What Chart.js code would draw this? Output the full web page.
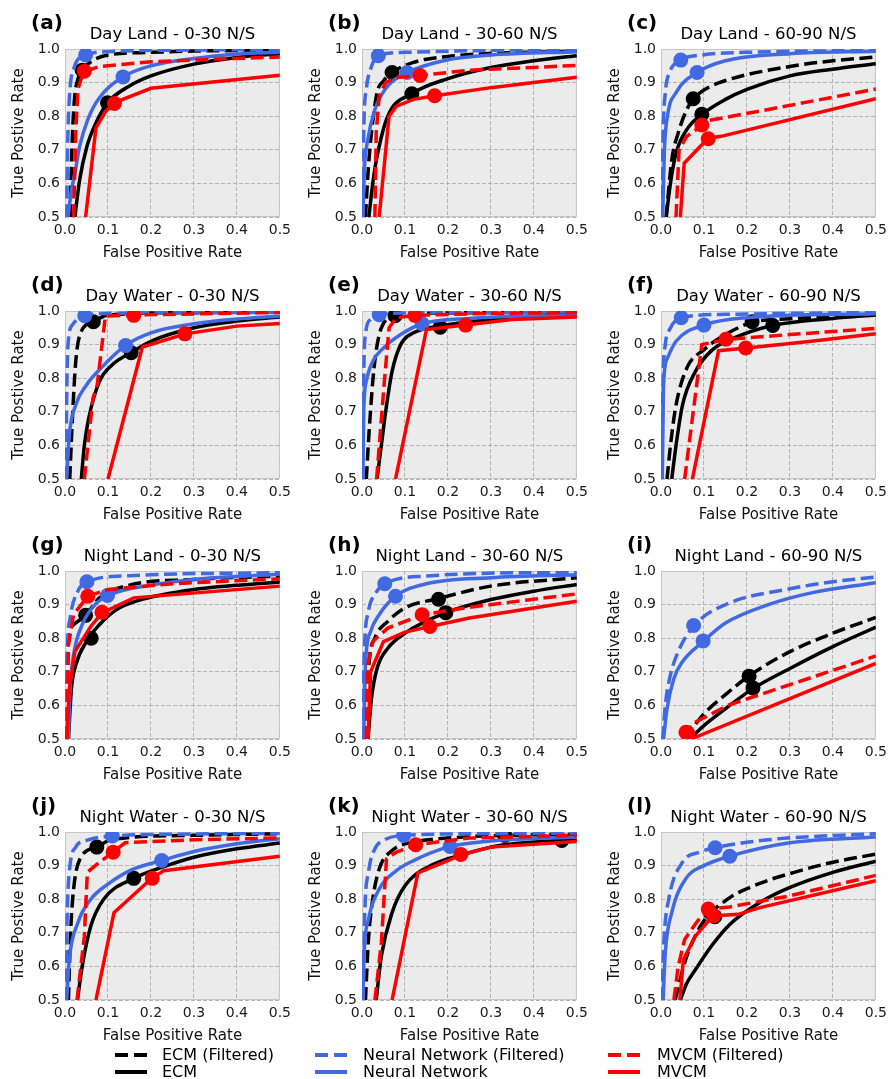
<!DOCTYPE html>
<html>
<head>
<meta charset="utf-8">
<script src="https://cdn.jsdelivr.net/npm/chart.js@4"></script>
<style>
  body { margin: 0; background: #fff; width: 893px; height: 1079px; position: relative; overflow: hidden; font-family: "DejaVu Sans", sans-serif; }
  canvas.panel { position: absolute; }
  .leg { position: absolute; font-size: 16px; line-height: 17px; color: #000; white-space: nowrap; }
  .swatch { position: absolute; width: 32px; height: 4px; }
</style>
</head>
<body>
<script>
// ---- data ----
const panelLetters = ['(a)', '(b)', '(c)', '(d)', '(e)', '(f)', '(g)', '(h)', '(i)', '(j)', '(k)', '(l)']
const panelTitles = [
  'Day Land - 0-30 N/S', 'Day Land - 30-60 N/S', 'Day Land - 60-90 N/S',
  'Day Water - 0-30 N/S', 'Day Water - 30-60 N/S', 'Day Water - 60-90 N/S',
  'Night Land - 0-30 N/S', 'Night Land - 30-60 N/S', 'Night Land - 60-90 N/S',
  'Night Water - 0-30 N/S', 'Night Water - 30-60 N/S', 'Night Water - 60-90 N/S'
]
const xTicks = [0.0, 0.1, 0.2, 0.3, 0.4, 0.5]
const yTicks = [0.5, 0.6, 0.7, 0.8, 0.9, 1.0]

// ROC curves, one [fpr, tpr] list per panel (a..l)
const ecmFiltered = [
  [[0.012,0.5],[0.016,0.7],[0.022,0.85],[0.03,0.91],[0.04,0.937],[0.06,0.962],[0.1,0.982],[0.2,0.99],[0.3,0.994],[0.5,0.996]],
  [[0.008,0.5],[0.015,0.65],[0.022,0.75],[0.035,0.87],[0.05,0.905],[0.07,0.93],[0.12,0.96],[0.2,0.978],[0.3,0.987],[0.5,0.993]],
  [[0.012,0.5],[0.025,0.67],[0.04,0.75],[0.06,0.82],[0.075,0.85],[0.1,0.878],[0.155,0.908],[0.3,0.948],[0.4,0.965],[0.5,0.976]],
  [[0.011,0.5],[0.018,0.7],[0.025,0.85],[0.035,0.93],[0.066,0.968],[0.1,0.988],[0.3,0.995],[0.5,0.997]],
  [[0.01,0.5],[0.017,0.65],[0.028,0.83],[0.045,0.95],[0.077,0.985],[0.15,0.993],[0.5,0.996]],
  [[0.014,0.5],[0.022,0.6],[0.035,0.72],[0.06,0.83],[0.1,0.885],[0.15,0.93],[0.212,0.966],[0.3,0.977],[0.5,0.99]],
  [[0.003,0.5],[0.006,0.76],[0.02,0.84],[0.048,0.868],[0.08,0.92],[0.15,0.958],[0.3,0.975],[0.5,0.985]],
  [[0.01,0.5],[0.015,0.7],[0.03,0.8],[0.06,0.85],[0.1,0.89],[0.178,0.918],[0.3,0.955],[0.5,0.98]],
  [[0.055,0.5],[0.1,0.575],[0.15,0.632],[0.205,0.688],[0.3,0.76],[0.4,0.815],[0.5,0.862]],
  [[0.008,0.5],[0.013,0.7],[0.02,0.83],[0.035,0.92],[0.074,0.955],[0.11,0.978],[0.3,0.99],[0.5,0.995]],
  [[0.008,0.5],[0.015,0.68],[0.025,0.8],[0.04,0.89],[0.07,0.945],[0.12,0.97],[0.2,0.982],[0.33,0.99],[0.5,0.993]],
  [[0.033,0.5],[0.056,0.615],[0.094,0.724],[0.155,0.8],[0.23,0.847],[0.31,0.88],[0.4,0.91],[0.5,0.934]]
]
const ecm = [
  [[0.023,0.5],[0.034,0.61],[0.051,0.71],[0.072,0.78],[0.099,0.84],[0.15,0.89],[0.2,0.92],[0.3,0.955],[0.4,0.975],[0.5,0.986]],
  [[0.016,0.5],[0.025,0.6],[0.035,0.68],[0.06,0.8],[0.116,0.867],[0.2,0.912],[0.3,0.945],[0.4,0.965],[0.5,0.98]],
  [[0.012,0.5],[0.022,0.6],[0.035,0.69],[0.06,0.76],[0.095,0.805],[0.15,0.85],[0.2,0.88],[0.3,0.92],[0.4,0.94],[0.5,0.956]],
  [[0.038,0.5],[0.045,0.6],[0.055,0.68],[0.08,0.79],[0.11,0.84],[0.155,0.877],[0.2,0.91],[0.3,0.95],[0.4,0.97],[0.5,0.982]],
  [[0.035,0.5],[0.045,0.6],[0.055,0.7],[0.07,0.82],[0.09,0.9],[0.12,0.935],[0.18,0.955],[0.3,0.975],[0.5,0.985]],
  [[0.025,0.5],[0.035,0.6],[0.05,0.72],[0.08,0.82],[0.12,0.885],[0.17,0.92],[0.26,0.957],[0.4,0.978],[0.5,0.988]],
  [[0.008,0.5],[0.015,0.65],[0.025,0.72],[0.05,0.79],[0.08,0.84],[0.12,0.885],[0.17,0.912],[0.3,0.945],[0.5,0.967]],
  [[0.014,0.5],[0.022,0.62],[0.035,0.71],[0.06,0.77],[0.1,0.815],[0.195,0.876],[0.3,0.915],[0.4,0.94],[0.5,0.96]],
  [[0.067,0.5],[0.1,0.54],[0.15,0.59],[0.214,0.65],[0.3,0.71],[0.4,0.775],[0.5,0.833]],
  [[0.029,0.5],[0.04,0.6],[0.06,0.72],[0.09,0.8],[0.16,0.862],[0.23,0.897],[0.3,0.925],[0.4,0.95],[0.5,0.967]],
  [[0.033,0.5],[0.045,0.63],[0.07,0.76],[0.1,0.84],[0.16,0.9],[0.24,0.935],[0.32,0.96],[0.5,0.978]],
  [[0.045,0.5],[0.06,0.55],[0.08,0.59],[0.12,0.665],[0.16,0.725],[0.23,0.79],[0.3,0.835],[0.4,0.88],[0.5,0.913]]
]
const nnFiltered = [
  [[0.004,0.5],[0.006,0.7],[0.01,0.85],[0.02,0.94],[0.048,0.982],[0.1,0.992],[0.3,0.997],[0.5,0.998]],
  [[0.002,0.5],[0.004,0.75],[0.01,0.88],[0.02,0.94],[0.038,0.98],[0.1,0.99],[0.3,0.996],[0.5,0.998]],
  [[0.002,0.5],[0.005,0.75],[0.01,0.87],[0.02,0.93],[0.046,0.967],[0.1,0.983],[0.2,0.99],[0.5,0.996]],
  [[0.002,0.5],[0.004,0.75],[0.007,0.9],[0.018,0.96],[0.046,0.987],[0.1,0.993],[0.5,0.996]],
  [[0.002,0.5],[0.004,0.8],[0.008,0.93],[0.02,0.975],[0.04,0.989],[0.1,0.994],[0.5,0.997]],
  [[0.002,0.5],[0.005,0.8],[0.01,0.9],[0.02,0.945],[0.047,0.98],[0.15,0.99],[0.5,0.996]],
  [[0.002,0.5],[0.005,0.75],[0.012,0.86],[0.03,0.94],[0.051,0.968],[0.15,0.986],[0.5,0.995]],
  [[0.002,0.5],[0.005,0.74],[0.015,0.88],[0.03,0.93],[0.053,0.962],[0.15,0.985],[0.5,0.997]],
  [[0.004,0.5],[0.01,0.6],[0.02,0.68],[0.04,0.76],[0.076,0.836],[0.15,0.9],[0.3,0.947],[0.4,0.968],[0.5,0.982]],
  [[0.002,0.5],[0.005,0.75],[0.01,0.88],[0.025,0.955],[0.05,0.975],[0.11,0.988],[0.3,0.994],[0.5,0.996]],
  [[0.003,0.5],[0.006,0.74],[0.015,0.88],[0.03,0.95],[0.05,0.975],[0.097,0.99],[0.3,0.995],[0.5,0.997]],
  [[0.002,0.5],[0.007,0.68],[0.018,0.8],[0.05,0.91],[0.09,0.94],[0.126,0.953],[0.25,0.977],[0.5,0.995]]
]
const nn = [
  [[0.007,0.5],[0.015,0.58],[0.023,0.63],[0.034,0.71],[0.053,0.79],[0.08,0.855],[0.135,0.917],[0.2,0.95],[0.3,0.972],[0.4,0.985],[0.5,0.99]],
  [[0.002,0.5],[0.006,0.65],[0.012,0.72],[0.03,0.82],[0.06,0.89],[0.105,0.93],[0.2,0.968],[0.3,0.982],[0.5,0.992]],
  [[0.004,0.5],[0.008,0.7],[0.015,0.8],[0.035,0.87],[0.084,0.93],[0.15,0.965],[0.3,0.986],[0.5,0.993]],
  [[0.004,0.5],[0.01,0.63],[0.025,0.72],[0.05,0.78],[0.08,0.825],[0.14,0.897],[0.2,0.935],[0.3,0.962],[0.4,0.976],[0.5,0.985]],
  [[0.002,0.5],[0.004,0.7],[0.01,0.79],[0.025,0.85],[0.05,0.89],[0.09,0.93],[0.14,0.962],[0.25,0.978],[0.5,0.988]],
  [[0.003,0.5],[0.006,0.78],[0.015,0.86],[0.035,0.91],[0.1,0.958],[0.2,0.98],[0.5,0.992]],
  [[0.008,0.5],[0.012,0.65],[0.02,0.75],[0.04,0.84],[0.07,0.9],[0.1,0.927],[0.2,0.958],[0.3,0.975],[0.5,0.99]],
  [[0.004,0.5],[0.008,0.72],[0.02,0.82],[0.04,0.87],[0.078,0.925],[0.15,0.962],[0.3,0.98],[0.5,0.989]],
  [[0.006,0.5],[0.014,0.59],[0.03,0.68],[0.05,0.73],[0.098,0.79],[0.15,0.845],[0.25,0.9],[0.35,0.935],[0.5,0.965]],
  [[0.004,0.5],[0.01,0.62],[0.03,0.73],[0.06,0.8],[0.1,0.845],[0.156,0.888],[0.225,0.915],[0.3,0.942],[0.4,0.965],[0.5,0.98]],
  [[0.002,0.5],[0.005,0.64],[0.015,0.74],[0.04,0.83],[0.08,0.885],[0.12,0.915],[0.2,0.955],[0.3,0.973],[0.5,0.985]],
  [[0.005,0.5],[0.01,0.64],[0.025,0.76],[0.06,0.865],[0.1,0.9],[0.16,0.928],[0.3,0.968],[0.5,0.985]]
]
const mvcmFiltered = [
  [[0.02,0.5],[0.025,0.75],[0.03,0.88],[0.043,0.932],[0.08,0.948],[0.2,0.962],[0.35,0.97],[0.5,0.976]],
  [[0.03,0.5],[0.033,0.75],[0.04,0.86],[0.055,0.9],[0.08,0.915],[0.135,0.921],[0.25,0.937],[0.5,0.951]],
  [[0.035,0.5],[0.042,0.7],[0.06,0.74],[0.095,0.772],[0.11,0.787],[0.25,0.82],[0.5,0.881]],
  [[0.045,0.5],[0.065,0.74],[0.075,0.78],[0.094,0.985],[0.16,0.988],[0.5,0.996]],
  [[0.034,0.5],[0.052,0.79],[0.063,0.95],[0.08,0.98],[0.123,0.987],[0.3,0.993],[0.5,0.995]],
  [[0.055,0.5],[0.075,0.7],[0.095,0.9],[0.15,0.915],[0.3,0.93],[0.5,0.948]],
  [[0.005,0.5],[0.008,0.78],[0.02,0.87],[0.053,0.925],[0.1,0.945],[0.25,0.962],[0.5,0.977]],
  [[0.01,0.5],[0.013,0.72],[0.025,0.79],[0.06,0.83],[0.14,0.87],[0.25,0.892],[0.5,0.932]],
  [[0.05,0.51],[0.08,0.55],[0.155,0.6],[0.5,0.747]],
  [[0.028,0.5],[0.045,0.69],[0.052,0.88],[0.08,0.91],[0.112,0.94],[0.14,0.968],[0.3,0.977],[0.5,0.982]],
  [[0.03,0.5],[0.045,0.67],[0.057,0.92],[0.08,0.94],[0.125,0.962],[0.25,0.982],[0.5,0.99]],
  [[0.03,0.5],[0.04,0.6],[0.055,0.68],[0.085,0.735],[0.11,0.77],[0.16,0.777],[0.3,0.81],[0.5,0.871]]
]
const mvcm = [
  [[0.048,0.5],[0.072,0.765],[0.095,0.815],[0.12,0.843],[0.2,0.883],[0.5,0.922]],
  [[0.04,0.5],[0.063,0.8],[0.08,0.83],[0.12,0.85],[0.17,0.861],[0.3,0.885],[0.5,0.916]],
  [[0.045,0.5],[0.054,0.66],[0.08,0.695],[0.11,0.735],[0.14,0.74],[0.5,0.852]],
  [[0.1,0.5],[0.18,0.893],[0.28,0.932],[0.4,0.955],[0.5,0.963]],
  [[0.078,0.5],[0.15,0.945],[0.24,0.958],[0.35,0.975],[0.5,0.982]],
  [[0.073,0.5],[0.134,0.882],[0.2,0.89],[0.35,0.91],[0.5,0.932]],
  [[0.004,0.5],[0.01,0.65],[0.023,0.76],[0.06,0.835],[0.086,0.875],[0.16,0.92],[0.5,0.955]],
  [[0.014,0.5],[0.02,0.7],[0.05,0.79],[0.1,0.818],[0.158,0.835],[0.25,0.86],[0.5,0.91]],
  [[0.07,0.5],[0.5,0.725]],
  [[0.072,0.5],[0.114,0.76],[0.14,0.79],[0.2,0.86],[0.23,0.885],[0.5,0.928]],
  [[0.07,0.5],[0.13,0.878],[0.2,0.915],[0.23,0.932],[0.3,0.955],[0.5,0.972]],
  [[0.044,0.5],[0.052,0.62],[0.08,0.69],[0.12,0.75],[0.18,0.755],[0.23,0.775],[0.5,0.855]]
]

// operating points (circles), one per panel
const ecmFilteredPt = [[0.04,0.937],[0.07,0.93],[0.075,0.852],[0.066,0.968],[0.077,0.986],[0.212,0.968],[0.048,0.868],[0.178,0.916],[0.205,0.687],[0.074,0.955],[0.332,0.99],[0.115,0.76]]
const ecmPt = [[0.099,0.84],[0.116,0.867],[0.095,0.806],[0.154,0.876],[0.182,0.952],[0.26,0.957],[0.061,0.8],[0.195,0.876],[0.214,0.652],[0.16,0.862],[0.465,0.975],[0.125,0.748]]
const nnFilteredPt = [[0.048,0.982],[0.038,0.98],[0.046,0.967],[0.046,0.986],[0.04,0.989],[0.047,0.98],[0.051,0.968],[0.053,0.962],[0.076,0.838],[0.11,0.988],[0.097,0.99],[0.126,0.953]]
const nnPt = [[0.135,0.917],[0.105,0.93],[0.084,0.93],[0.141,0.897],[0.14,0.962],[0.1,0.958],[0.099,0.927],[0.078,0.925],[0.098,0.792],[0.225,0.915],[0.205,0.957],[0.16,0.928]]
const mvcmFilteredPt = [[0.045,0.934],[0.135,0.921],[0.095,0.774],[0.16,0.987],[0.123,0.987],[0.151,0.916],[0.053,0.925],[0.14,0.87],[0.058,0.52],[0.112,0.94],[0.125,0.962],[0.11,0.771]]
const mvcmPt = [[0.115,0.838],[0.169,0.861],[0.11,0.733],[0.279,0.932],[0.241,0.958],[0.197,0.89],[0.086,0.877],[0.158,0.835],[0.062,0.518],[0.203,0.862],[0.23,0.933],[0.122,0.751]]

const seriesNames = ['ECM (Filtered)', 'ECM', 'Neural Network (Filtered)', 'Neural Network', 'MVCM (Filtered)', 'MVCM']

// ---- styling / layout ----
const series = [
  { name: seriesNames[0], curves: ecmFiltered, pts: ecmFilteredPt, color: '#000000', dashed: true, smooth: true },
  { name: seriesNames[1], curves: ecm, pts: ecmPt, color: '#000000', dashed: false, smooth: true },
  { name: seriesNames[2], curves: nnFiltered, pts: nnFilteredPt, color: '#4169e1', dashed: true, smooth: true },
  { name: seriesNames[3], curves: nn, pts: nnPt, color: '#4169e1', dashed: false, smooth: true },
  { name: seriesNames[4], curves: mvcmFiltered, pts: mvcmFilteredPt, color: '#ff0000', dashed: true, smooth: false },
  { name: seriesNames[5], curves: mvcm, pts: mvcmPt, color: '#ff0000', dashed: false, smooth: false }
]

const colLeft = [65, 362, 661]
const rowTop = [49, 311, 571, 832]
const plotW = 219, plotH = 168
const padL = 64, padT = 49, padR = 12, padB = 45
const FONT = '"DejaVu Sans", sans-serif'

const panelDecor = {
  id: 'panelDecor',
  beforeDraw(chart) {
    const { ctx, chartArea: a } = chart
    ctx.save()
    ctx.fillStyle = '#ebebeb'
    ctx.fillRect(a.left, a.top, a.right - a.left, a.bottom - a.top)
    ctx.restore()
  },
  beforeDatasetsDraw(chart) {
    const { ctx, chartArea: a } = chart
    ctx.save()
    ctx.strokeStyle = '#c6c6c6'
    ctx.lineWidth = 1
    ctx.strokeRect(a.left + 0.5, a.top + 0.5, a.right - a.left - 1, a.bottom - a.top - 1)
    ctx.restore()
  },
  afterDraw(chart, args, opts) {
    const { ctx, chartArea: a } = chart
    ctx.save()
    ctx.fillStyle = '#000'
    ctx.textBaseline = 'middle'
    ctx.textAlign = 'left'
    ctx.font = 'bold 20px ' + FONT
    ctx.fillText(opts.letter, a.left - 34, a.top - 25)
    ctx.textAlign = 'center'
    ctx.font = '16.5px ' + FONT
    ctx.fillText(opts.title, (a.left + a.right) / 2, a.top - 14)
    ctx.restore()
  }
}

const toXY = (arr) => arr.map(([x, y]) => ({ x, y }))

function makePanel(p) {
  const col = p % 3, row = Math.floor(p / 3)
  const canvas = document.createElement('canvas')
  canvas.className = 'panel'
  canvas.width = padL + plotW + padR
  canvas.height = padT + plotH + padB
  canvas.style.left = (colLeft[col] - padL) + 'px'
  canvas.style.top = (rowTop[row] - padT) + 'px'
  document.body.appendChild(canvas)

  const drawList = []
  series.forEach(s => {
    drawList.push({
      data: toXY(s.curves[p]),
      showLine: true,
      borderColor: s.color,
      backgroundColor: s.color,
      borderWidth: 3.5,
      borderDash: s.dashed ? [13, 5.5] : [],
      borderCapStyle: 'butt',
      pointRadius: 0,
      fill: false,
      tension: s.smooth ? 0.4 : 0,
      cubicInterpolationMode: s.smooth ? 'monotone' : 'default'
    })
    drawList.push({
      data: toXY([s.pts[p]]),
      showLine: false,
      pointRadius: 7.5,
      pointBackgroundColor: s.color,
      pointBorderWidth: 0
    })
  })
  // later in drawList = drawn on top
  drawList.forEach((d, i) => { d.order = drawList.length - i })

  const tickFont = { family: FONT, size: 14 }
  const titleFont = { family: FONT, size: 15, lineHeight: 1.2 }

  new Chart(canvas, {
    type: 'scatter',
    data: { datasets: drawList },
    plugins: [panelDecor],
    options: {
      responsive: false,
      animation: false,
      events: [],
      devicePixelRatio: 1,
      layout: { padding: { left: 0, top: padT, right: padR, bottom: 0 } },
      plugins: {
        legend: { display: false },
        tooltip: { enabled: false },
        panelDecor: { letter: panelLetters[p], title: panelTitles[p] }
      },
      scales: {
        x: {
          type: 'linear', min: 0, max: 0.5,
          afterBuildTicks: (sc) => { sc.ticks = xTicks.map(v => ({ value: v })) },
          afterFit: (sc) => { sc.height = padB },
          ticks: { font: tickFont, color: '#1a1a1a', padding: 5, maxRotation: 0, callback: (v) => Number(v).toFixed(1) },
          grid: { color: '#b3b3b3', lineWidth: 1, drawTicks: false },
          border: { display: false, dash: [4, 2] },
          title: { display: true, text: 'False Positive Rate', font: titleFont, color: '#111', padding: { top: 0, bottom: 0 } }
        },
        y: {
          type: 'linear', min: 0.5, max: 1.0,
          afterBuildTicks: (sc) => { sc.ticks = yTicks.map(v => ({ value: v })) },
          afterFit: (sc) => { sc.width = padL },
          ticks: { font: tickFont, color: '#1a1a1a', padding: 5, callback: (v) => Number(v).toFixed(1) },
          grid: { color: '#b3b3b3', lineWidth: 1, drawTicks: false },
          border: { display: false, dash: [4, 2] },
          title: { display: true, text: 'True Postive Rate', font: titleFont, color: '#111', padding: { top: 9, bottom: 0 } }
        }
      }
    }
  })
}

for (let p = 0; p < panelTitles.length; p++) makePanel(p)

// ---- legend along the bottom ----
const legendCols = [{ line: 115, text: 162 }, { line: 315, text: 363 }, { line: 608, text: 657 }]
const legendRows = [1055, 1072]
series.forEach((s, i) => {
  const c = legendCols[Math.floor(i / 2)]
  const yc = legendRows[i % 2]
  const sw = document.createElement('div')
  sw.className = 'swatch'
  sw.style.left = c.line + 'px'
  sw.style.top = (yc - 2) + 'px'
  sw.style.background = s.dashed
    ? `repeating-linear-gradient(to right, ${s.color} 0 13px, transparent 13px 19px)`
    : s.color
  document.body.appendChild(sw)
  const lab = document.createElement('div')
  lab.className = 'leg'
  lab.style.left = c.text + 'px'
  lab.style.top = (yc - 9) + 'px'
  lab.textContent = s.name
  document.body.appendChild(lab)
})
</script>
</body>
</html>
